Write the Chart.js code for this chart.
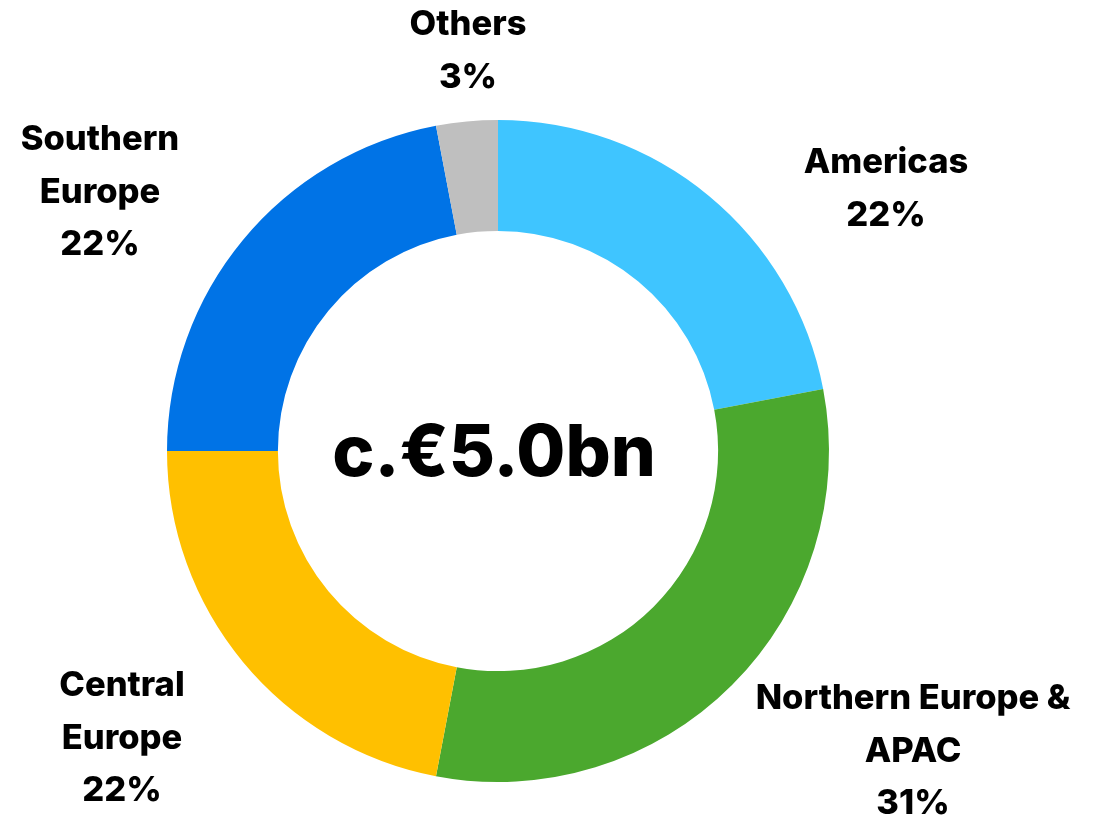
<!DOCTYPE html>
<html>
<head>
<meta charset="utf-8">
<script src="https://cdn.jsdelivr.net/npm/chart.js@4"></script>
<style>
  html, body { margin: 0; padding: 0; background: #fff; }
  #wrap { width: 1104px; height: 817px; position: relative; }
</style>
</head>
<body>
<div id="wrap"><canvas id="myChart"></canvas></div>
<script>
const regions = ["Americas", "Northern Europe & APAC", "Central Europe", "Southern Europe", "Others"];
const shares = [22, 31, 22, 22, 3];
const colours = ["#3FC5FF", "#4BA82E", "#FFC000", "#0073E6", "#BFBFBF"];
const labelLines = [
  ["Americas"],
  ["Northern Europe &", "APAC"],
  ["Central", "Europe"],
  ["Southern", "Europe"],
  ["Others"],
];
const centreText = "c.€5.0bn";

// where each label block sits (centre x, first line y)
const labelPos = [
  [886, 163],
  [913, 699],
  [122, 686],
  [100, 140],
  [468, 25],
];

const FONT = "Inter, 'Noto Sans', sans-serif";

const outsideLabels = {
  id: "outsideLabels",
  afterDraw(chart) {
    const ctx = chart.ctx;
    ctx.save();
    ctx.fillStyle = "#000";
    ctx.textAlign = "center";
    ctx.textBaseline = "middle";
    ctx.font = "800 34.5px " + FONT;
    chart.data.labels.forEach((lbl, i) => {
      const lines = labelLines[i].concat([shares[i] + "%"]);
      const [x, y] = labelPos[i];
      lines.forEach((t, j) => ctx.fillText(t, x, y + j * 52.5));
    });

    // centre total
    const arc = chart.getDatasetMeta(0).data[0];
    ctx.font = "800 71px " + FONT;
    ctx.fillText(centreText, arc.x - 4, arc.y + 4);
    ctx.restore();
  },
};

const data = {
  labels: regions,
  datasets: [
    {
      data: shares,
      backgroundColor: colours,
      borderWidth: 0,
    },
  ],
};

const config = {
  type: "doughnut",
  data: data,
  options: {
    responsive: true,
    maintainAspectRatio: false,
    animation: false,
    cutout: "66.5%",
    layout: {
      padding: { top: 120, bottom: 35, left: 100, right: 208 },
    },
    plugins: {
      legend: { display: false },
      tooltip: { enabled: false },
    },
  },
  plugins: [outsideLabels],
};

var myChart = new Chart(document.getElementById("myChart"), config);
</script>
</body>
</html>
